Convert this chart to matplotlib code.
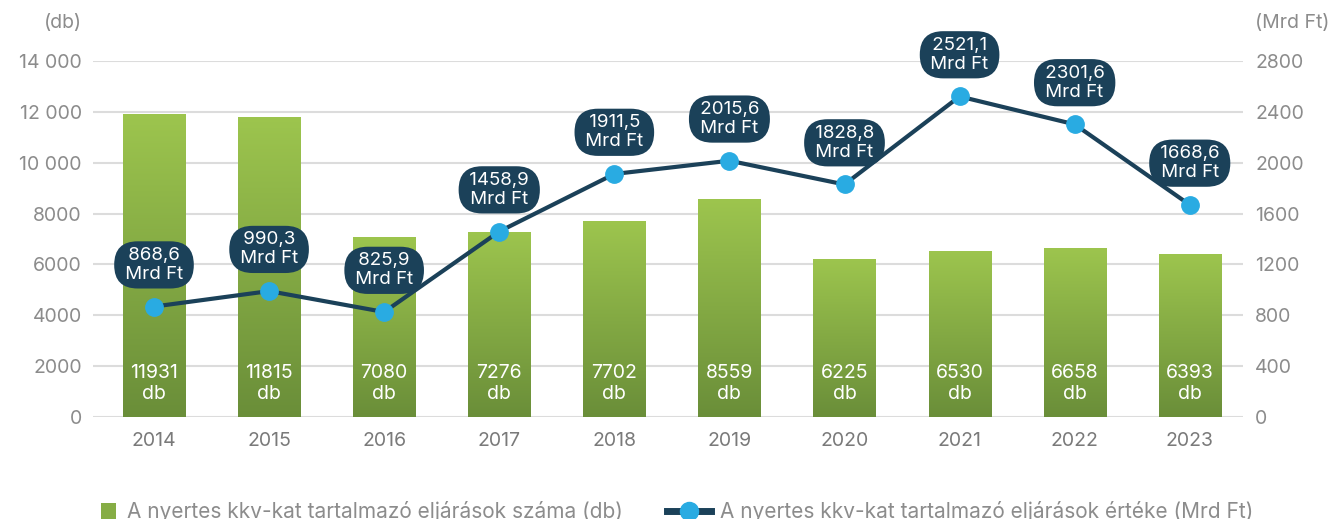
import numpy as np
import matplotlib.pyplot as plt
from matplotlib.lines import Line2D
from matplotlib.patches import Patch
from matplotlib.colors import LinearSegmentedColormap

plt.rcParams['font.family'] = ['Inter', 'DejaVu Sans']

years = ['2014', '2015', '2016', '2017', '2018', '2019', '2020', '2021', '2022', '2023']
counts = [11931, 11815, 7080, 7276, 7702, 8559, 6225, 6530, 6658, 6393]
values = [868.6, 990.3, 825.9, 1458.9, 1911.5, 2015.6, 1828.8, 2521.1, 2301.6, 1668.6]

left_ticks = [0, 2000, 4000, 6000, 8000, 10000, 12000, 14000]
left_labels = ['0', '2000', '4000', '6000', '8000', '10 000', '12 000', '14 000']
right_ticks = [0, 400, 800, 1200, 1600, 2000, 2400, 2800]

bar_name = 'A nyertes kkv-kat tartalmazó eljárások száma (db)'
line_name = 'A nyertes kkv-kat tartalmazó eljárások értéke (Mrd Ft)'

navy = '#1b4159'
cyan = '#29abe2'
grey = '#8c8c8c'

fig = plt.figure(figsize=(13.42, 5.19), dpi=100)
ax = fig.add_axes([0.0693, 0.1965, 0.8567, 0.686])
ax2 = ax.twinx()

x = np.arange(len(years))
bars = ax.bar(x, counts, width=0.54, color='#86ad45', zorder=2)

# gradient fill, light on top, darker at the bottom
grad = np.linspace(0, 1, 256).reshape(-1, 1)
cmap = LinearSegmentedColormap.from_list('g', ['#6a8e39', '#9dc54e'])
for b in bars:
    im = ax.imshow(grad, cmap=cmap, aspect='auto', origin='lower',
                   extent=[b.get_x(), b.get_x() + b.get_width(), 0, b.get_height()],
                   zorder=2.5)
    im.set_clip_path(b)

for xi, c in zip(x, counts):
    ax.text(xi, 1330, f'{c}\ndb', ha='center', va='center', color='white',
            fontsize=14, linespacing=1.2, zorder=3)

ax.set_xlim(-0.53, 9.46)
ax.set_ylim(0, 14000)
ax.set_yticks(left_ticks)
ax.set_yticklabels(left_labels)
ax.set_xticks(x)
ax.set_xticklabels(years)
ax.grid(axis='y', color='#dcdcdc', linewidth=1.5, zorder=0)
ax.set_axisbelow(True)

ax2.set_ylim(0, 2800)
ax2.set_yticks(right_ticks)
ax2.plot(x, values, color=navy, linewidth=3, marker='o', markersize=12.5,
         markerfacecolor=cyan, markeredgecolor=cyan, zorder=5)

for xi, v in zip(x, values):
    num = f'{v:.1f}'.replace('.', ',')
    lbl = f' {num} \n Mrd Ft '
    ax2.annotate(lbl, (xi, v), xytext=(0, 30), textcoords='offset points',
                 ha='center', va='center', color='white', fontsize=13.5,
                 linespacing=1.15,
                 bbox=dict(boxstyle='round,pad=0.3,rounding_size=1.25',
                           fc=navy, ec='none'), zorder=6)

for a in (ax, ax2):
    for s in a.spines.values():
        s.set_visible(False)
    a.tick_params(length=0, labelsize=14, labelcolor=grey)
ax.tick_params(axis='y', pad=8)
ax2.tick_params(axis='y', pad=9)
ax.tick_params(axis='x', pad=11, labelcolor='#7a7a7a')

fig.text(0.061, 0.955, '(db)', ha='right', va='center', fontsize=14, color=grey)
fig.text(0.935, 0.955, '(Mrd Ft)', ha='left', va='center', fontsize=14, color=grey)

bar_handle = Patch(facecolor='#86ad45', edgecolor='none')
line_handle = Line2D([0], [0], color=navy, linewidth=5, marker='o', markersize=13,
                     markerfacecolor=cyan, markeredgecolor=cyan)
leg1 = fig.legend([bar_handle], [bar_name], loc='center left',
                  bbox_to_anchor=(0.075, 0.014), frameon=False, fontsize=15,
                  labelcolor=grey, handlelength=0.75, handleheight=0.75,
                  handletextpad=0.5, borderpad=0, borderaxespad=0)
leg2 = fig.legend([line_handle], [line_name], loc='center left',
                  bbox_to_anchor=(0.497, 0.014), frameon=False, fontsize=15,
                  labelcolor=grey, handlelength=2.1,
                  handletextpad=0.45, borderpad=0, borderaxespad=0)

fig.savefig('out.png', dpi=100)
